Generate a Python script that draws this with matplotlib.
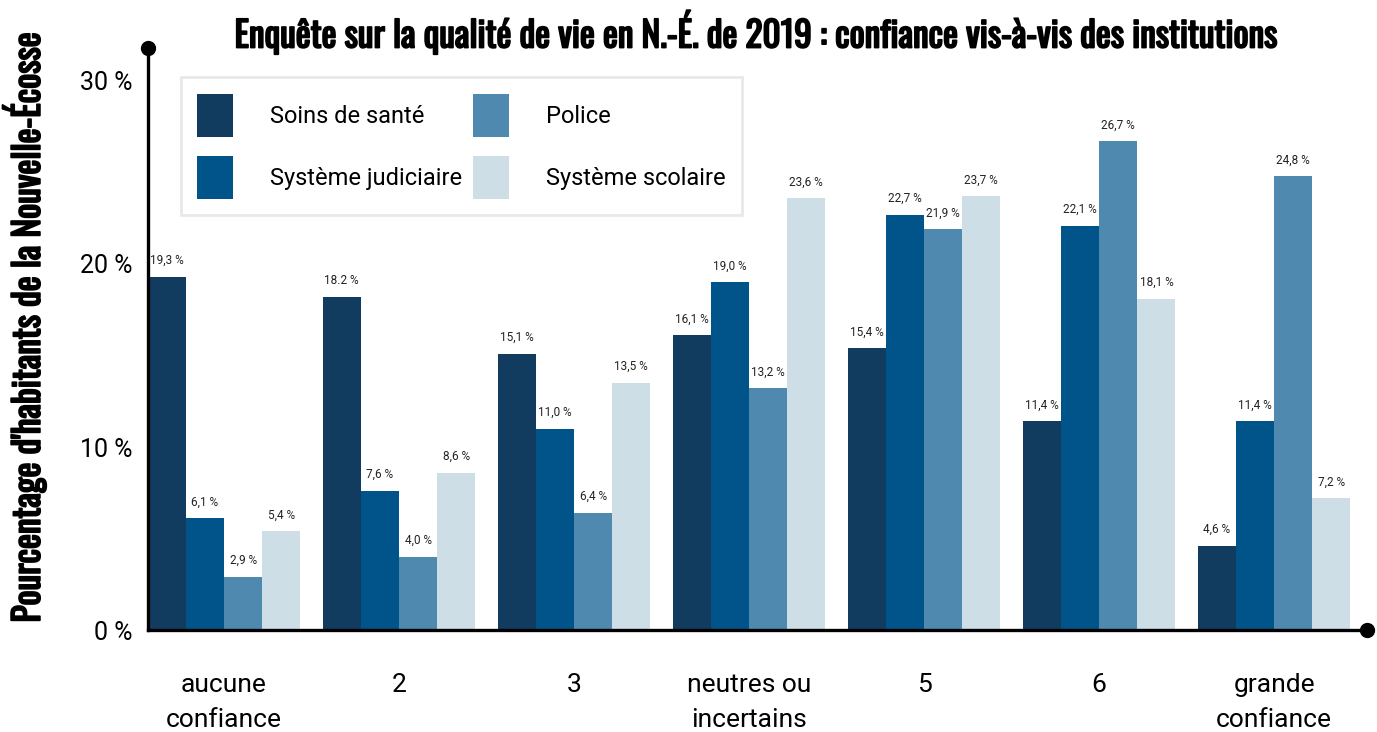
import matplotlib.pyplot as plt
import matplotlib.patheffects as pe
import numpy as np

categories = ['aucune\nconfiance', '2', '3', 'neutres ou\nincertains', '5', '6', 'grande\nconfiance']
series_names = ['Soins de santé', 'Système judiciaire', 'Police', 'Système scolaire']
sante = [19.3, 18.2, 15.1, 16.1, 15.4, 11.4, 4.6]
judiciaire = [6.1, 7.6, 11.0, 19.0, 22.7, 22.1, 11.4]
police = [2.9, 4.0, 6.4, 13.2, 21.9, 26.7, 24.8]
scolaire = [5.4, 8.6, 13.5, 23.6, 23.7, 18.1, 7.2]
value_labels = [
    ['19,3 %', '18.2 %', '15,1 %', '16,1 %', '15,4 %', '11,4 %', '4,6 %'],
    ['6,1 %', '7,6 %', '11,0 %', '19,0 %', '22,7 %', '22,1 %', '11,4 %'],
    ['2,9 %', '4,0 %', '6,4 %', '13,2 %', '21,9 %', '26,7 %', '24,8 %'],
    ['5,4 %', '8,6 %', '13,5 %', '23,6 %', '23,7 %', '18,1 %', '7,2 %'],
]
colors = ['#123c5f', '#01548a', '#5089b0', '#cddee6']

plt.rcParams['font.family'] = ['Roboto', 'DejaVu Sans']
heading_font = ['Oswald', 'IBM Plex Sans Condensed', 'DejaVu Sans']
# thicken the condensed heading font a bit
heavy = [pe.withStroke(linewidth=1.3, foreground='black')]

fig = plt.figure(figsize=(13.77, 7.32), dpi=100)
ax = fig.add_axes([0.1075, 0.1393, 0.8852, 0.7951])

x = np.arange(len(categories))
w = 0.218
all_series = [sante, judiciaire, police, scolaire]
for i, (vals, name, col) in enumerate(zip(all_series, series_names, colors)):
    pos = x + (i - 1.5) * w
    ax.bar(pos, vals, width=w, color=col, label=name, zorder=2)
    for px, v, lab in zip(pos, vals, value_labels[i]):
        ax.annotate(lab, (px, v), xytext=(0, 7), textcoords='offset points',
                    ha='center', va='bottom', fontsize=8.5, color='#222222')

ax.set_xlim(-0.434, 6.53)
ax.set_ylim(0, 31.8)
ax.set_yticks([0, 10, 20, 30])
ax.set_yticklabels(['0 %', '10 %', '20 %', '30 %'])
ax.set_xticks(x)
ax.set_xticklabels(categories, linespacing=1.55)
ax.tick_params(axis='y', length=0, pad=11, labelsize=18)
ax.tick_params(axis='x', length=0, pad=31, labelsize=19)

for s in ['top', 'right']:
    ax.spines[s].set_visible(False)
for s in ['left', 'bottom']:
    ax.spines[s].set_linewidth(2.4)
    ax.spines[s].set_zorder(3)
# round caps at the open ends of the axes
ax.plot([0], [1], 'o', color='black', ms=10, transform=ax.transAxes, clip_on=False, zorder=4)
ax.plot([1], [0], 'o', color='black', ms=10, transform=ax.transAxes, clip_on=False, zorder=4)

ylab = ax.set_ylabel("Pourcentage d'habitants de la Nouvelle-Écosse",
                     family=heading_font, fontsize=25.5)
ylab.set_path_effects(heavy)
ax.yaxis.set_label_coords(-0.083, 0.52)

title = fig.suptitle('Enquête sur la qualité de vie en N.-É. de 2019 : confiance vis-à-vis des institutions',
                     family=heading_font, fontsize=25.5, x=0.549, y=0.987)
title.set_path_effects(heavy)

leg = ax.legend(ncol=2, loc='upper left', bbox_to_anchor=(0.017, 0.970),
                fontsize=17, frameon=True, fancybox=False,
                handlelength=1.53, handleheight=2.43, handletextpad=1.57,
                labelspacing=0.8, columnspacing=0.45, borderpad=0.7)
leg.get_frame().set_edgecolor('#e3e3e3')
leg.get_frame().set_linewidth(2)

fig.savefig('out.png', dpi=100)
